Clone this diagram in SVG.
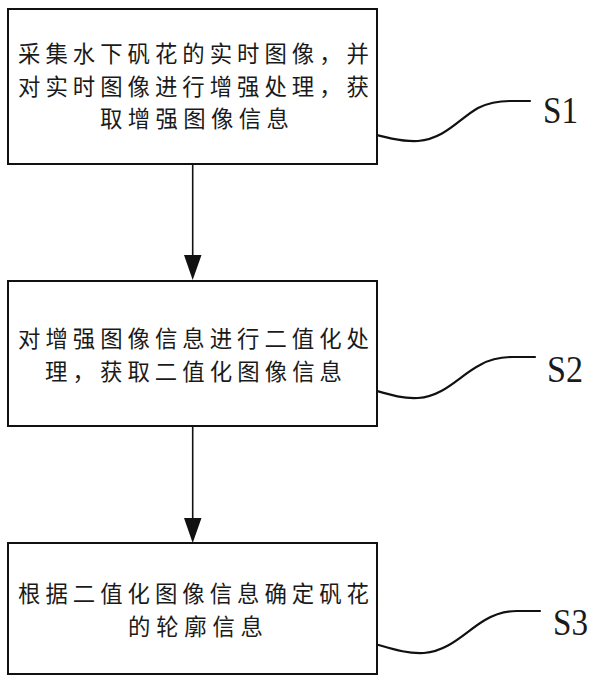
<svg xmlns="http://www.w3.org/2000/svg" width="600" height="684" viewBox="0 0 600 684">
<style>
.box{fill:#fff;stroke:#111;stroke-width:2}
.t{font-family:"Noto Sans CJK SC","Noto Sans",sans-serif;font-size:22.4px;fill:#1a1a1a}
.lbl{font-family:"Liberation Serif","Times New Roman",serif;font-size:37px;fill:#1a1a1a}
.lead{fill:none;stroke:#111;stroke-width:2.2;stroke-linecap:round}
.arr{stroke:#111;stroke-width:1.6;fill:none}
.head{fill:#111}
</style>
<rect width="600" height="684" fill="#fff"/>
<g id="connectors">
<line class="arr" x1="192.7" y1="164" x2="192.7" y2="255"/>
<path class="head" d="M184,255 L201.5,255 L192.7,280 Z"/>
<line class="arr" x1="192.7" y1="426" x2="192.7" y2="518"/>
<path class="head" d="M184,518 L201.5,518 L192.7,543 Z"/>
<path class="lead" d="M358,130 C380,136 400,142 418,141 C445,139 460,118 478,108 C490,102 500,101 510,101 L530,101"/>
<path class="lead" d="M363,387 C385,393 400,399 418,398 C445,396 460,375 480,365 C492,358 502,357 512,357 L535,357"/>
<path class="lead" d="M368,642 C390,648 405,654 424,653 C450,651 466,631 485,620 C497,613 507,611 517,611 L540,611"/>
</g>
<g id="s1">
<rect class="box" x="8" y="9" width="369" height="155"/>
<text class="t" x="18" y="62" textLength="351" lengthAdjust="spacing">采集水下矾花的实时图像，并</text>
<text class="t" x="18" y="94.7" textLength="351" lengthAdjust="spacing">对实时图像进行增强处理，获</text>
<text class="t" x="100" y="127.4" textLength="189" lengthAdjust="spacing">取增强图像信息</text>
</g>
<g id="s2">
<rect class="box" x="8" y="281" width="369" height="145"/>
<text class="t" x="18" y="346.5" textLength="351" lengthAdjust="spacing">对增强图像信息进行二值化处</text>
<text class="t" x="45" y="380.2" textLength="297" lengthAdjust="spacing">理，获取二值化图像信息</text>
</g>
<g id="s3">
<rect class="box" x="8" y="543" width="369" height="131"/>
<text class="t" x="18" y="601.5" textLength="351" lengthAdjust="spacing">根据二值化图像信息确定矾花</text>
<text class="t" x="128" y="634.5" textLength="135" lengthAdjust="spacing">的轮廓信息</text>
</g>
<g id="labels">
<text class="lbl" x="543" y="123" textLength="35" lengthAdjust="spacingAndGlyphs">S1</text>
<text class="lbl" x="547" y="382" textLength="36" lengthAdjust="spacingAndGlyphs">S2</text>
<text class="lbl" x="553" y="635" textLength="35" lengthAdjust="spacingAndGlyphs">S3</text>
</g>
</svg>
